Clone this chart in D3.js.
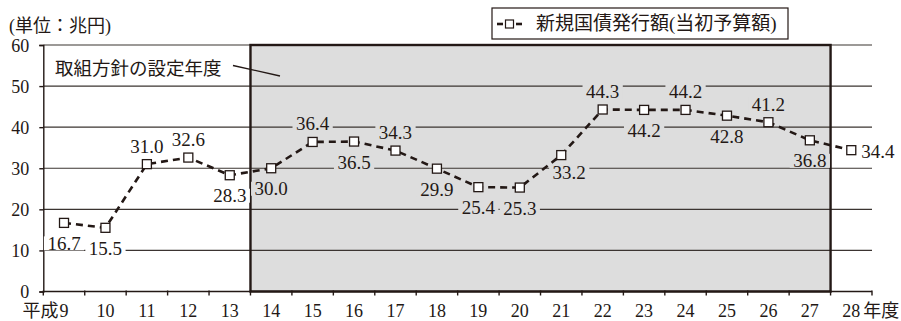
<!DOCTYPE html>
<html>
<head>
<meta charset="utf-8">
<script src="https://cdn.jsdelivr.net/npm/d3@7"></script>
</head>
<body style="margin:0;padding:0;background:#ffffff">
<svg id="chart" width="901" height="321" style="display:block"></svg>
<script>
// 新規国債発行額（当初予算額）, 平成9〜28年度, 単位：兆円
const years = ["9","10","11","12","13","14","15","16","17","18","19","20","21","22","23","24","25","26","27","28"];
const issuance = [16.7, 15.5, 31.0, 32.6, 28.3, 30.0, 36.4, 36.5, 34.3, 29.9, 25.4, 25.3, 33.2, 44.3, 44.2, 44.2, 42.8, 41.2, 36.8, 34.4];
// where each value label sits relative to its marker
const labelSide = ["below","below","above","above","below","below","above","below","above","below","below","below","belowRight","above","below","above","below","above","below","right"];
const yTicks = [0, 10, 20, 30, 40, 50, 60];
// years covered by the policy-setting period (shaded box)
const policyFirst = "14";
const policyLast = "27";

const ink = "#231815";
const shade = "#dddddd";
const numFont = '"Liberation Serif"';
const jaFont = '"Liberation Serif", "Noto Sans CJK JP"';

const svg = d3.select("#chart");

const x = d3.scaleBand().domain(years).range([43.3, 872]).paddingInner(0).paddingOuter(0);
const y = d3.scaleLinear().domain([0, 60]).range([291.5, 45]);
const cx = d => x(d) + x.bandwidth() / 2;

const boxX0 = x(policyFirst);
const boxX1 = x(policyLast) + x.bandwidth();

// shaded policy period
svg.append("rect")
  .attr("x", boxX0).attr("y", y(60))
  .attr("width", boxX1 - boxX0).attr("height", y(0) - y(60))
  .attr("fill", shade);

// horizontal grid
svg.append("g")
  .selectAll("line")
  .data(yTicks.filter(t => t > 0))
  .join("line")
  .attr("x1", x.range()[0]).attr("x2", x.range()[1])
  .attr("y1", d => y(d)).attr("y2", d => y(d))
  .attr("stroke", "#3b3431").attr("stroke-width", 1.2);

// border of the shaded period
svg.append("rect")
  .attr("x", boxX0).attr("y", y(60))
  .attr("width", boxX1 - boxX0).attr("height", y(0) - y(60))
  .attr("fill", "none").attr("stroke", ink).attr("stroke-width", 2.4);

// y axis
const yAxis = d3.axisLeft(y).tickValues(yTicks).tickSize(4).tickPadding(5).tickFormat(d3.format("d"));
const gy = svg.append("g").attr("transform", `translate(${x.range()[0]},0)`).call(yAxis);
gy.attr("font-family", null).attr("font-size", null);
gy.select(".domain").attr("stroke", ink).attr("stroke-width", 1.4);
gy.selectAll(".tick line").attr("stroke", ink).attr("stroke-width", 1.4);
gy.selectAll(".tick text").attr("font-size", 18).attr("fill", ink).attr("x", -14).attr("dy", "0.34em")
  .style("font-family", numFont);

// x axis: ticks at the category boundaries
const gx = svg.append("g").attr("transform", `translate(0,${y(0)})`);
gx.append("line")
  .attr("x1", x.range()[0]).attr("x2", x.range()[1])
  .attr("stroke", ink).attr("stroke-width", 1.6);
gx.selectAll("line.tk")
  .data(years.map(d => x(d)).concat([x.range()[1]]))
  .join("line").attr("class", "tk")
  .attr("x1", d => d).attr("x2", d => d)
  .attr("y1", -1).attr("y2", 4)
  .attr("stroke", ink).attr("stroke-width", 1.4);

const xl = svg.append("g");
const xBase = 317;
const yearText = xl.selectAll("text.yr")
  .data(years)
  .join("text").attr("class", "yr")
  .attr("x", d => cx(d)).attr("y", xBase)
  .attr("text-anchor", "middle").attr("font-size", 18).attr("fill", ink)
  .style("font-family", numFont)
  .text(d => d);
// era prefix before the first year and unit after the last
yearText.each(function(d, i) {
  const w = this.getComputedTextLength();
  if (i === 0) {
    xl.append("text").attr("x", cx(d) - w / 2 - 1).attr("y", xBase)
      .attr("text-anchor", "end").attr("font-size", 18).attr("fill", ink)
      .style("font-family", jaFont).text("平成");
  }
  if (i === years.length - 1) {
    xl.append("text").attr("x", cx(d) + w / 2 + 3).attr("y", xBase)
      .attr("text-anchor", "start").attr("font-size", 18).attr("fill", ink)
      .style("font-family", jaFont).text("年度");
  }
});

// unit caption
svg.append("text").attr("x", 9).attr("y", 32).attr("font-size", 18).attr("fill", ink)
  .style("font-family", jaFont).text("(単位：兆円)");

// note inside the chart
svg.append("text").attr("x", 55).attr("y", 74.5).attr("font-size", 18.5).attr("fill", ink)
  .style("font-family", jaFont).text("取組方針の設定年度");
svg.append("line")
  .attr("x1", 233).attr("y1", 65.5).attr("x2", 280).attr("y2", 76)
  .attr("stroke", ink).attr("stroke-width", 1.3);

// series line
const pts = years.map((d, i) => ({ year: d, value: issuance[i], side: labelSide[i] }));
svg.append("path")
  .datum(pts)
  .attr("d", d3.line().x(d => cx(d.year)).y(d => y(d.value)))
  .attr("fill", "none").attr("stroke", ink)
  .attr("stroke-width", 2.6).attr("stroke-dasharray", "7,5");

// markers
const ms = 9;
svg.append("g")
  .selectAll("rect")
  .data(pts)
  .join("rect")
  .attr("x", d => cx(d.year) - ms / 2).attr("y", d => y(d.value) - ms / 2)
  .attr("width", ms).attr("height", ms)
  .attr("fill", "#ffffff").attr("stroke", ink).attr("stroke-width", 1.3);

// value labels, each on a patch of its own background so grid lines break around it
const fmt = d3.format(".1f");
const inBox = d => x(d) >= boxX0 && x(d) < boxX1;
const lg = svg.append("g");
pts.forEach(p => {
  const px = cx(p.year), py = y(p.value);
  let tx = px, tyc = py, anchor = "middle";
  if (p.side === "above") { tyc = py - 18; }
  else if (p.side === "below") { tyc = py + 20.5; }
  else if (p.side === "belowRight") { tx = px + 8; tyc = py + 17.5; }
  else if (p.side === "right") { tx = px + 10; tyc = py + 1.5; anchor = "start"; }
  const g = lg.append("g");
  const bg = g.append("rect").attr("fill", inBox(p.year) ? shade : "#ffffff");
  const t = g.append("text")
    .attr("x", tx).attr("y", tyc + 6.5)
    .attr("text-anchor", anchor).attr("font-size", 19).attr("fill", ink)
    .style("font-family", numFont)
    .text(fmt(p.value));
  const w = t.node().getComputedTextLength();
  const left = anchor === "middle" ? tx - w / 2 : tx;
  bg.attr("x", left - 3.5).attr("y", tyc - 7).attr("width", w + 7).attr("height", 14);
});

// legend
const legend = svg.append("g");
legend.append("rect")
  .attr("x", 492).attr("y", 8).attr("width", 296).attr("height", 31)
  .attr("fill", "#ffffff").attr("stroke", ink).attr("stroke-width", 1.2);
legend.append("line").attr("x1", 497).attr("x2", 503).attr("y1", 24).attr("y2", 24)
  .attr("stroke", ink).attr("stroke-width", 2.6);
legend.append("line").attr("x1", 516).attr("x2", 522).attr("y1", 24).attr("y2", 24)
  .attr("stroke", ink).attr("stroke-width", 2.6);
legend.append("rect").attr("x", 505.5).attr("y", 20).attr("width", 8).attr("height", 8)
  .attr("fill", "#ffffff").attr("stroke", ink).attr("stroke-width", 1.2);
legend.append("text").attr("x", 536).attr("y", 30).attr("font-size", 19).attr("fill", ink)
  .style("font-family", jaFont).text("新規国債発行額(当初予算額)");
</script>
</body>
</html>
